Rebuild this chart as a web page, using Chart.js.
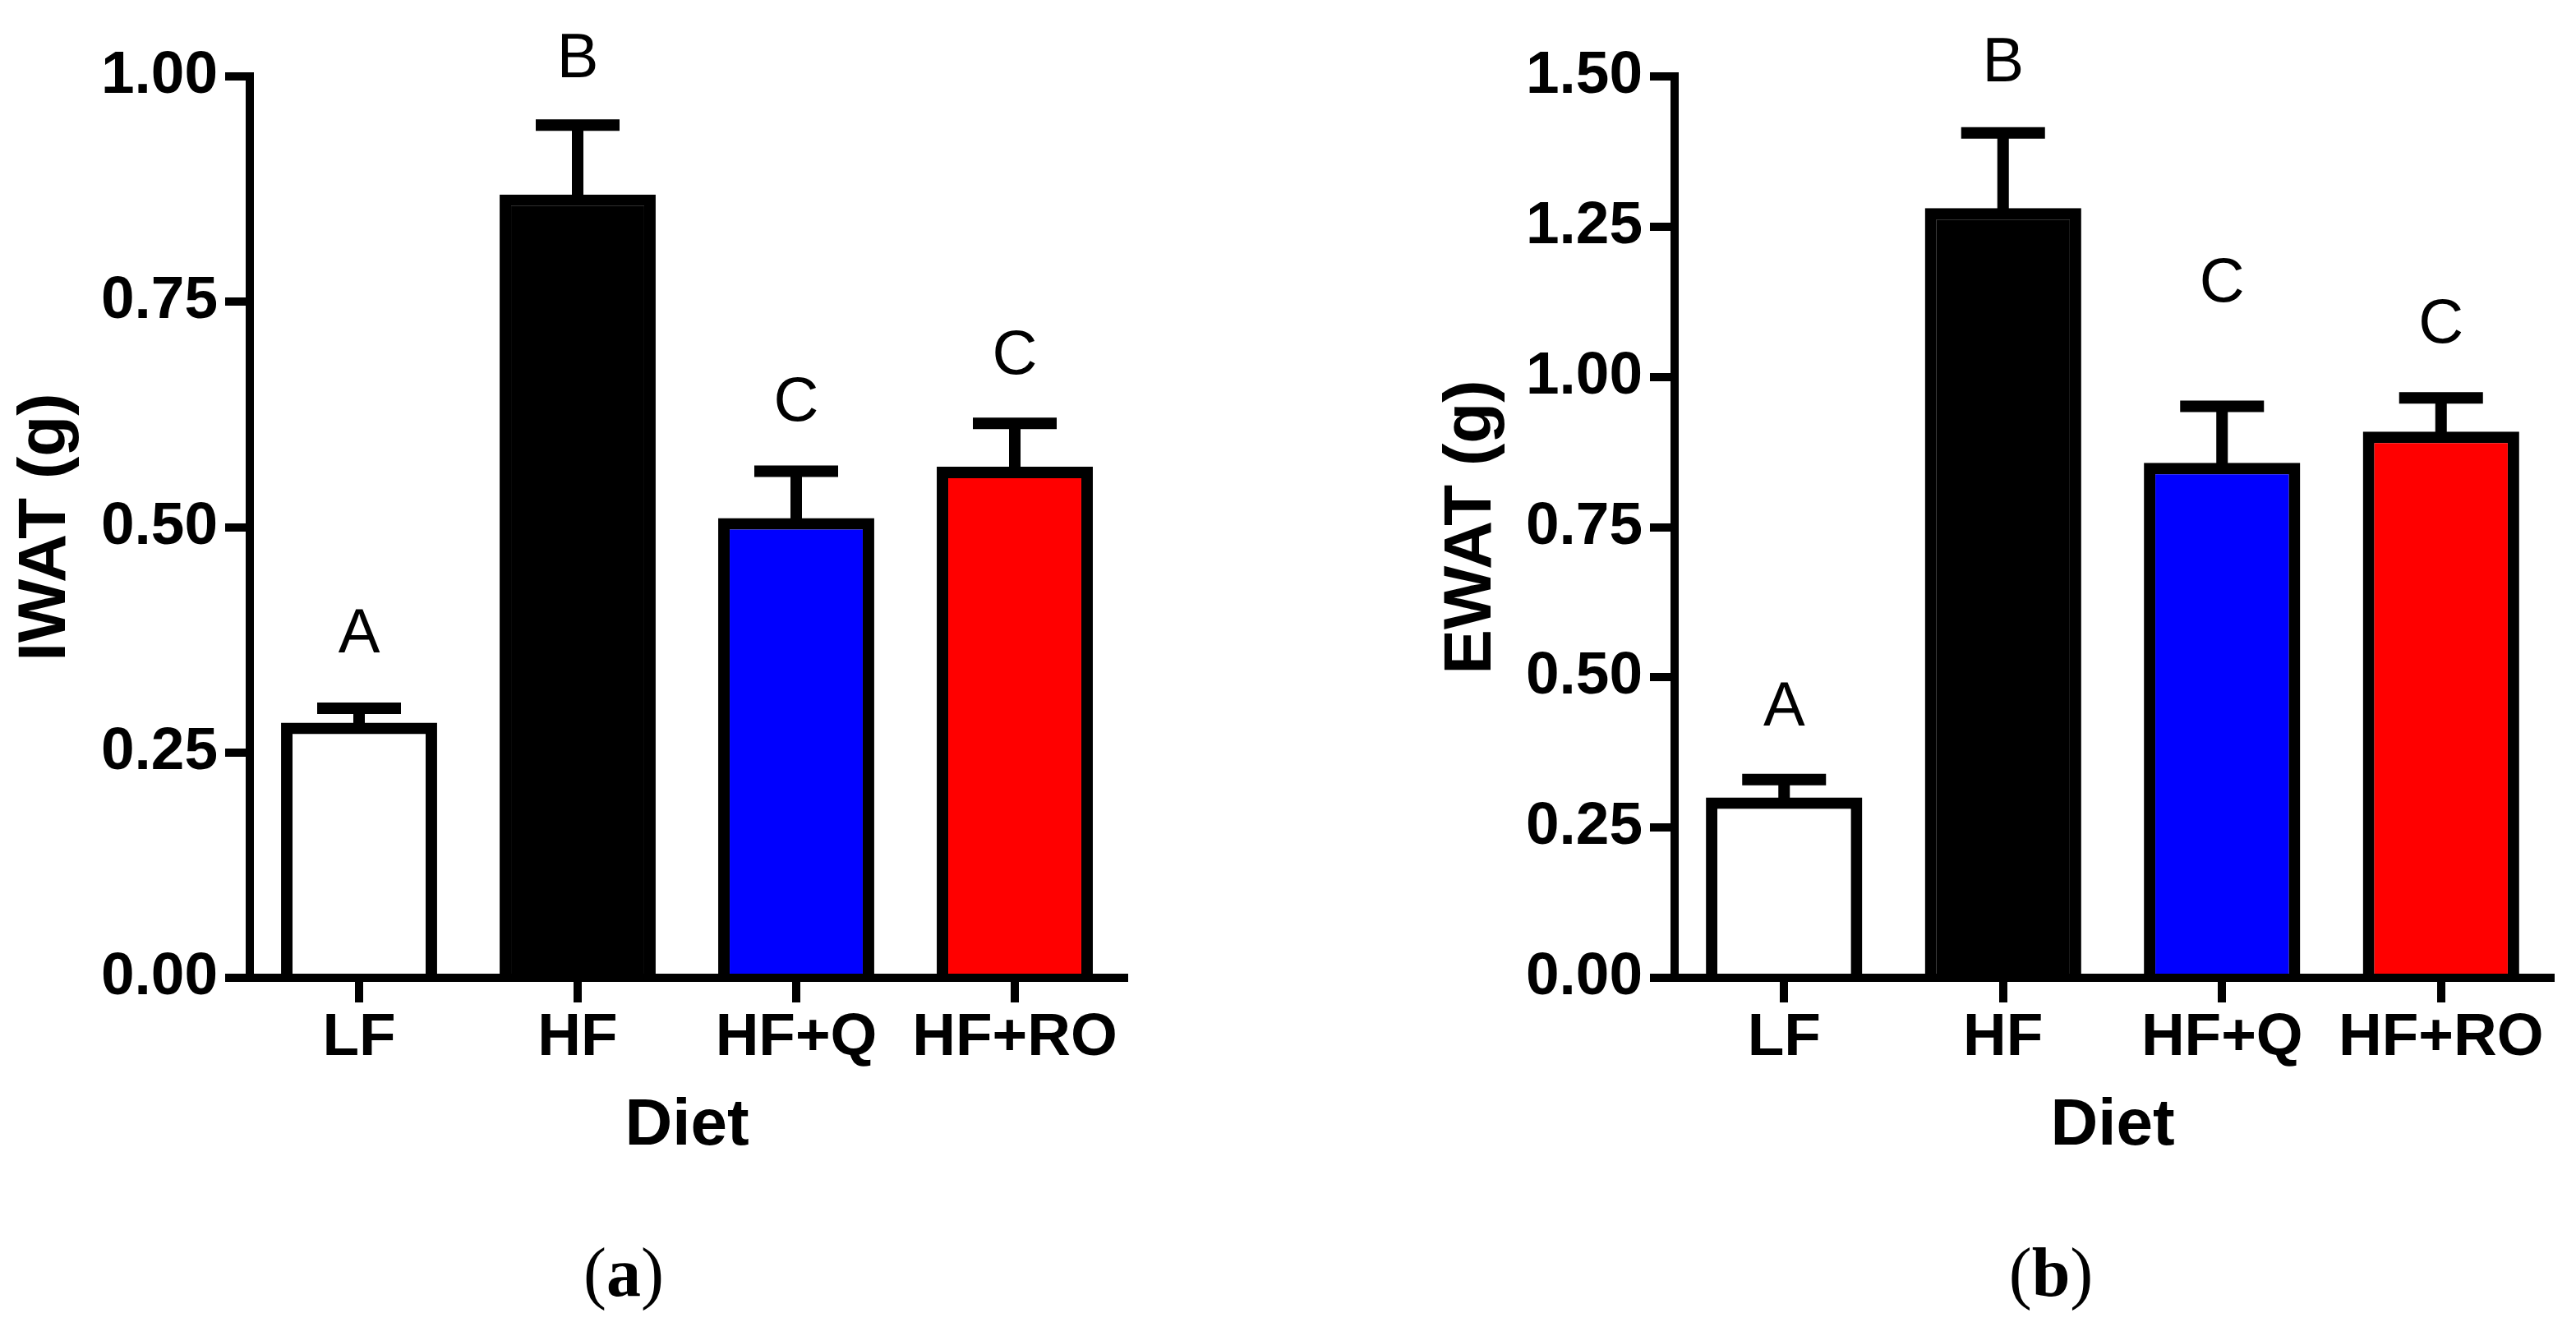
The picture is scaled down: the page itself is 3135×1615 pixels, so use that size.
<!DOCTYPE html>
<html><head><meta charset="utf-8">
<script src="https://cdn.jsdelivr.net/npm/chart.js@4"></script>
<style>
html,body{margin:0;padding:0;background:#fff;}
body{width:3135px;height:1615px;position:relative;overflow:hidden;}
canvas{position:absolute;top:0;}
.cap{position:absolute;top:1507px;width:400px;text-align:center;font-family:"Liberation Serif","Times New Roman",serif;font-size:84px;line-height:84px;color:#000;}
.cap b{font-weight:bold;}
</style></head><body>
<canvas id="ca" width="1560" height="1480" style="left:0px;width:1560px;height:1480px"></canvas>
<canvas id="cb" width="1400" height="1480" style="left:1735px;width:1400px;height:1480px"></canvas>
<div class="cap" style="left:559px">(<b>a</b>)</div>
<div class="cap" style="left:2296px">(<b>b</b>)</div>
<script>
// ---- data ----
const categories = ['LF', 'HF', 'HF+Q', 'HF+RO'];
const barColors = ['#ffffff', '#000000', '#0000ff', '#ff0000'];

const iwatMean = [0.283, 0.869, 0.510, 0.567];
const iwatSem = [0.016, 0.077, 0.052, 0.048];
const iwatLetters = ['A', 'B', 'C', 'C'];
const iwatLetterLevel = [0.380, 1.018, 0.637, 0.689];
const iwatTicks = [0, 0.25, 0.50, 0.75, 1.00];

const ewatMean = [0.300, 1.281, 0.857, 0.909];
const ewatSem = [0.030, 0.125, 0.094, 0.056];
const ewatLetters = ['A', 'B', 'C', 'C'];
const ewatLetterLevel = [0.449, 1.520, 1.154, 1.086];
const ewatTicks = [0, 0.25, 0.50, 0.75, 1.00, 1.25, 1.50];

// ---- drawing ----
const FONT = '"Liberation Sans", Arial, sans-serif';
Chart.defaults.font.family = FONT;
Chart.defaults.color = '#000';

function annotPlugin(mean, sem, letters, levels) {
  return {
    id: 'annot',
    afterDatasetsDraw(chart) {
      const ctx = chart.ctx;
      const y = chart.scales.y;
      const meta = chart.getDatasetMeta(0);
      ctx.save();
      ctx.strokeStyle = '#000';
      ctx.lineWidth = 14;
      ctx.lineCap = 'butt';
      meta.data.forEach((bar, i) => {
        const top = y.getPixelForValue(mean[i] + sem[i]);
        ctx.beginPath();
        ctx.moveTo(bar.x, bar.y + 7);
        ctx.lineTo(bar.x, top);
        ctx.moveTo(bar.x - 51, top);
        ctx.lineTo(bar.x + 51, top);
        ctx.stroke();
      });
      ctx.fillStyle = '#000';
      ctx.font = '76px ' + FONT;
      ctx.textAlign = 'center';
      ctx.textBaseline = 'middle';
      meta.data.forEach((bar, i) => {
        ctx.fillText(letters[i], bar.x, y.getPixelForValue(levels[i]));
      });
      ctx.restore();
    }
  };
}

function makeChart(id, yTitle, mean, sem, letters, levels, ticks, yWidth, padRight) {
  const H = 1480;
  return new Chart(document.getElementById(id), {
    type: 'bar',
    data: {
      labels: categories,
      datasets: [{
        data: mean,
        backgroundColor: barColors,
        borderColor: '#000',
        borderWidth: 14,
        borderSkipped: 'start',
        barPercentage: 0.714,
        categoryPercentage: 1.0
      }]
    },
    options: {
      responsive: false,
      animation: false,
      devicePixelRatio: 1,
      layout: { padding: { left: 0, right: padRight, top: 93, bottom: 0 } },
      plugins: { legend: { display: false }, tooltip: { enabled: false } },
      scales: {
        x: {
          offset: true,
          grid: { display: true, drawOnChartArea: false, drawTicks: true, offset: false, color: '#000', lineWidth: 10, tickLength: 30 },
          border: { display: true, color: '#000', width: 10 },
          ticks: { font: { size: 73, weight: 'bold' }, color: '#000', padding: 0, maxRotation: 0, minRotation: 0, autoSkip: false },
          title: { display: true, text: 'Diet', font: { size: 80, weight: 'bold' }, color: '#000', padding: { top: 0, bottom: 61 } },
          afterFit: s => { s.height = H - 1190; }
        },
        y: {
          min: 0,
          max: ticks[ticks.length - 1],
          afterBuildTicks: s => { s.ticks = ticks.map(v => ({ value: v })); },
          grid: { display: true, drawOnChartArea: false, drawTicks: true, color: '#000', lineWidth: 10, tickLength: 30 },
          border: { display: true, color: '#000', width: 10 },
          ticks: { font: { size: 73, weight: 'bold' }, color: '#000', padding: 9, callback: v => Number(v).toFixed(2) },
          title: { display: true, text: yTitle, font: { size: 82, weight: 'bold' }, color: '#000', padding: { top: 7, bottom: 0 } },
          afterFit: s => { s.width = yWidth; }
        }
      }
    },
    plugins: [annotPlugin(mean, sem, letters, levels)]
  });
}

makeChart('ca', 'IWAT (g)', iwatMean, iwatSem, iwatLetters, iwatLetterLevel, iwatTicks, 304, 192);
makeChart('cb', 'EWAT (g)', ewatMean, ewatSem, ewatLetters, ewatLetterLevel, ewatTicks, 303, 31);
</script>
</body></html>
